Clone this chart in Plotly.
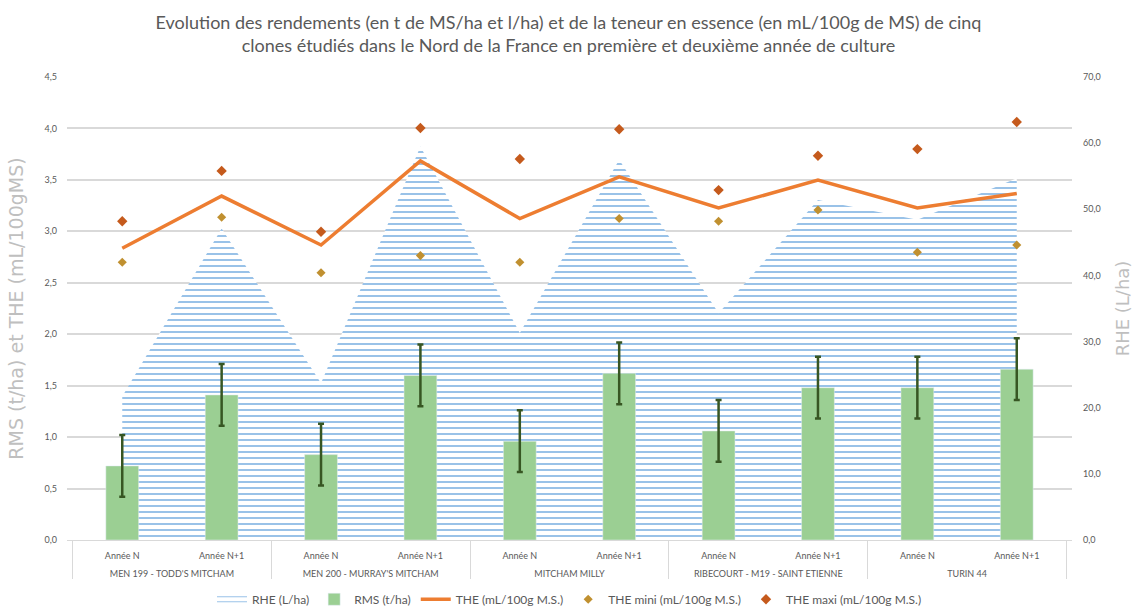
import plotly.graph_objects as go

clones = ["MEN 199 - TODD'S MITCHAM", "MEN 200 - MURRAY'S MITCHAM", "MITCHAM MILLY",
          "RIBECOURT - M19 - SAINT ETIENNE", "TURIN 44"]
years = ["Année N", "Année N+1"]

grp = ["<br>" + c for c in clones for _ in years]
sub = [y for _ in clones for y in years]

rhe = [21.7, 47.1, 23.7, 59.5, 31.3, 57.5, 34.3, 51.4, 48.4, 54.7]
rms = [0.72, 1.41, 0.83, 1.60, 0.96, 1.62, 1.06, 1.48, 1.48, 1.66]
rms_err = [0.30, 0.30, 0.30, 0.30, 0.30, 0.30, 0.30, 0.30, 0.30, 0.30]
the = [44.1, 52.0, 44.6, 57.3, 48.6, 54.9, 50.2, 54.4, 50.2, 52.4]
the_min = [42.0, 48.8, 40.4, 43.0, 42.0, 48.6, 48.2, 49.9, 43.5, 44.6]
the_max = [48.2, 55.8, 46.6, 62.3, 57.6, 62.1, 52.9, 58.1, 59.1, 63.2]

x = [grp, sub]
font = "Lato"
grey = "#595959"
title_grey = "#bfbfbf"
nb = "\u00a0"

fig = go.Figure()
fig.add_trace(go.Scatter(
    x=x, y=rhe, name="RHE (L/ha)", mode="none", fill="tozeroy", yaxis="y",
    fillpattern=dict(shape="-", fgcolor="#8dbbe6", bgcolor="white", size=6, solidity=0.3, fillmode="replace"),
))
fig.add_trace(go.Bar(
    x=x, y=rms, name="RMS (t/ha)", yaxis="y2", marker_color="#9bcf93",
    error_y=dict(type="data", array=rms_err, color="#375623", thickness=2.5, width=3),
))
fig.add_trace(go.Scatter(
    x=x, y=the, name="THE (mL/100g M.S.)", mode="lines", yaxis="y",
    line=dict(color="#ed7d31", width=3.5),
))
fig.add_trace(go.Scatter(
    x=x, y=the_min, name="THE mini (mL/100g M.S.)", mode="markers", yaxis="y",
    marker=dict(symbol="diamond", color="#c09030", size=7),
))
fig.add_trace(go.Scatter(
    x=x, y=the_max, name="THE maxi (mL/100g M.S.)", mode="markers", yaxis="y",
    marker=dict(symbol="diamond", color="#c55a1c", size=8),
))

fig.update_layout(
    width=1137, height=606,
    margin=dict(l=67, r=65, t=77, b=66, autoexpand=False),
    paper_bgcolor="white", plot_bgcolor="white",
    separators=", ",
    font=dict(family=font, color=grey, size=10),
    title=dict(
        text="Evolution des rendements (en t de MS/ha et l/ha) et de la teneur en essence (en mL/100g de MS) de cinq<br>clones étudiés dans le Nord de la France en première et deuxième année de culture",
        x=0.5, xanchor="center", y=0.952, yanchor="top",
        font=dict(family=font, size=18, color=grey),
    ),
    bargap=0.67,
    showlegend=True,
    legend=dict(orientation="h", x=0.5, xanchor="center", y=-0.128, yanchor="middle",
                font=dict(family=font, size=12, color=grey), traceorder="normal"),
    xaxis=dict(type="multicategory", showline=True, linecolor="#d9d9d9", linewidth=1,
               showdividers=True, dividercolor="#d9d9d9", dividerwidth=1,
               ticks="", ticklabelstandoff=7,
               tickfont=dict(family=font, size=9, color=grey), automargin=False,
               showgrid=False),
    yaxis=dict(side="right", range=[0, 70], dtick=10, tickformat=".1f", showgrid=False,
               zeroline=False, tickfont=dict(family=font, size=9, color=grey), ticklabelstandoff=10,
               title=dict(text="RHE (L/ha)" + nb * 3, font=dict(family="DejaVu Sans", size=18, color=title_grey), standoff=16),
               automargin=False),
    yaxis2=dict(side="left", overlaying="y", range=[0, 4.5], dtick=0.5, tickformat=".1f",
                showgrid=True, gridcolor="#d9d9d9", gridwidth=1.5, zeroline=False,
                tickfont=dict(family=font, size=9, color=grey), ticklabelstandoff=9,
                title=dict(text="RMS (t/ha) et THE (mL/100gMS)" + nb * 6, font=dict(family="DejaVu Sans", size=19, color=title_grey), standoff=15),
                automargin=False),
)

fig.write_html("out.html", config={"displayModeBar": False},
               post_script="document.body.style.margin='0';document.body.style.overflow='hidden';")
